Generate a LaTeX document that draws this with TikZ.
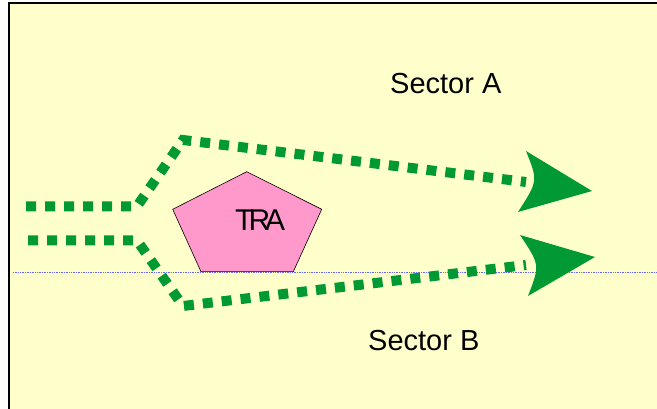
\documentclass[tikz,border=0pt]{standalone}
\usepackage{fontspec}
\setmainfont{Liberation Sans}
\definecolor{bgyellow}{HTML}{FFFFCC}
\definecolor{flowgreen}{HTML}{009933}
\definecolor{pentpink}{HTML}{FF99CC}
\definecolor{guideblue}{HTML}{6666FF}
\begin{document}
\begin{tikzpicture}[x=1pt,y=-1pt,
  flow/.style={draw=flowgreen, line width=10pt, dash pattern=on 10pt off 9pt},
  head/.style={fill=flowgreen, draw=none},
  sectorlabel/.style={font=\fontsize{29}{32}\selectfont, inner sep=0pt, anchor=base west},
  pentbox/.style={fill=pentpink, draw=black, line width=0.6pt}]
\fill[white] (0,0) rectangle (657,409);
\useasboundingbox (0,0) rectangle (657,409);
\fill[bgyellow] (9,3) rectangle (657,409);
\draw[line width=2pt] (9,409) -- (9,3) -- (657,3);
% guide line
\draw[guideblue, densely dotted, line width=0.7pt] (13,272.3) -- (657,272.3);
% pentagon
\filldraw[pentbox] (246.7,171.7) -- (321.7,209.3) -- (293.3,271.7) -- (201,271.7) -- (172.7,209.3) -- cycle;
\node[sectorlabel, font=\fontsize{30}{33}\selectfont] (tra) at (235,230.7) {T\kern-5pt R\kern-5pt A};
% labels
\node[sectorlabel] (secA) at (390,94) {Sector A};
\node[sectorlabel] (secB) at (368,350) {Sector B};
% flows
\coordinate (a0) at (26,206.3);
\coordinate (a1) at (137,206.3);
\coordinate (a2) at (183,140);
\coordinate (a3) at (526,182);
\coordinate (b0) at (28,240.5);
\coordinate (b1) at (137,240.5);
\coordinate (b2) at (183,306);
\coordinate (b3) at (526,265);
\draw[flow] (a0) -- (a1) -- (a2) -- (a3);
\draw[flow] (b0) -- (b1) -- (b2) -- (b3);
% arrowheads
\coordinate (ta) at (592,191);
\coordinate (ua) at (526,151);
\coordinate (la) at (518,212);
\fill[head] (ua) -- (ta) -- (la) .. controls (538,181) .. (ua) -- cycle;
\coordinate (tb) at (595,257);
\coordinate (ub) at (520,235);
\coordinate (lb) at (528,296);
\fill[head] (ub) -- (tb) -- (lb) .. controls (540,265) .. (ub) -- cycle;
\end{tikzpicture}
\end{document}
